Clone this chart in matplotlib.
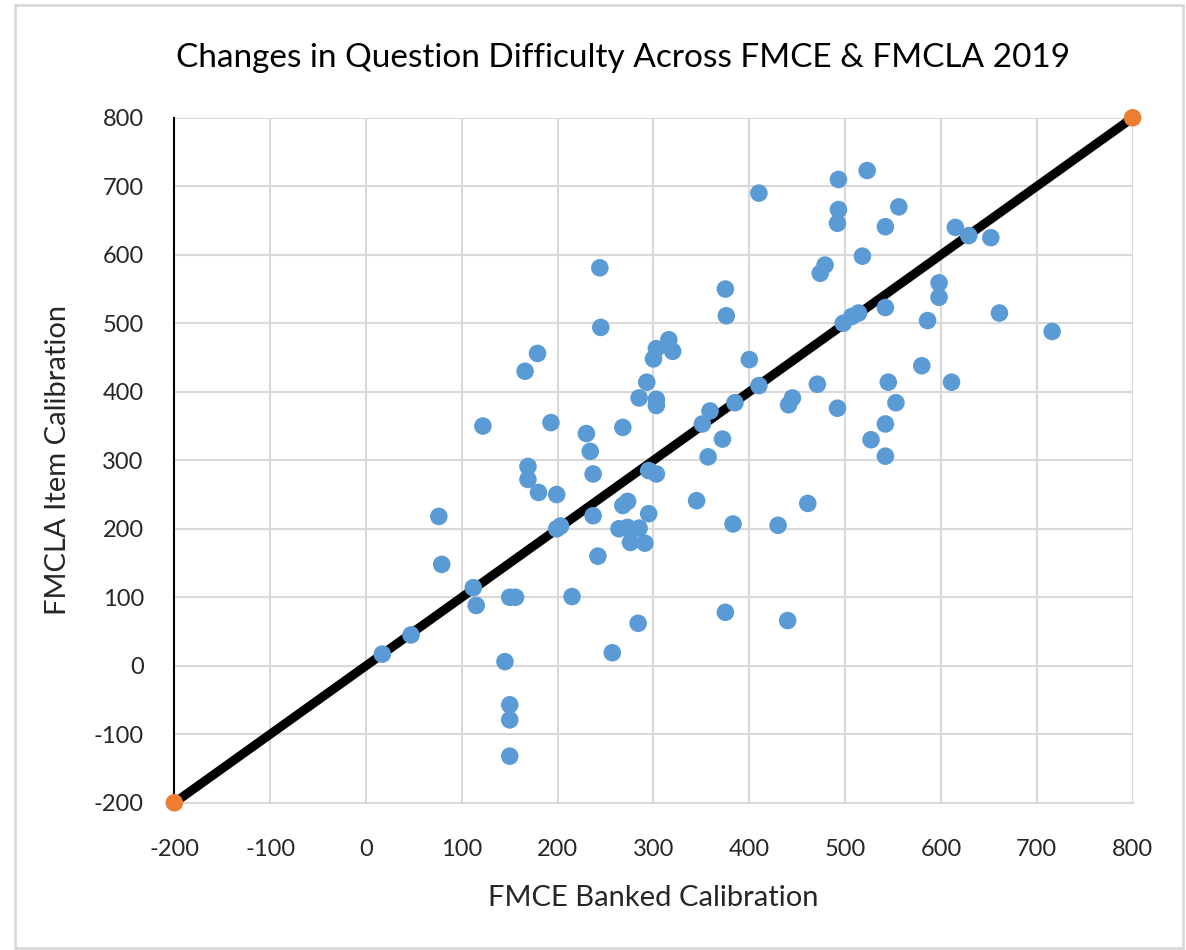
import matplotlib.pyplot as plt
from matplotlib.patches import Rectangle

plt.rcParams['font.family'] = ['Lato', 'DejaVu Sans']
plt.rcParams['axes.unicode_minus'] = False

# FMCE banked calibration (x) and FMCLA item calibration (y)
fmce = [17, 47, 76, 79, 112, 115, 122, 145, 150, 156, 150, 150, 150,
        166, 169, 169, 179, 180, 193, 199, 199, 203, 215, 230, 234, 237,
        237, 242, 244, 245, 257, 264, 268, 268, 273, 273, 276, 284, 285,
        285, 291, 293, 295, 295, 300, 303, 303, 303, 303, 316, 320, 345,
        351, 357, 359, 372, 375, 376, 375, 383, 385, 400, 410, 410, 430,
        440, 441, 445, 461, 471, 474, 479, 493, 492, 493, 492, 498, 507,
        514, 518, 523, 527, 542, 542, 542, 542, 545, 553, 556, 580, 586,
        598, 598, 611, 615, 629, 652, 661, 716]
fmcla = [17, 45, 218, 148, 114, 88, 350, 6, 100, 100, -57, -79, -132,
         430, 291, 272, 456, 253, 355, 200, 250, 204, 101, 339, 313, 280,
         219, 160, 581, 494, 19, 200, 348, 234, 240, 202, 180, 62, 391,
         201, 179, 414, 222, 285, 448, 463, 389, 380, 280, 476, 459, 241,
         353, 305, 372, 331, 550, 511, 78, 207, 384, 447, 409, 690, 205,
         66, 381, 391, 237, 411, 573, 585, 666, 646, 710, 376, 500, 510,
         515, 598, 723, 330, 641, 523, 353, 306, 414, 384, 670, 438, 504,
         559, 538, 414, 640, 628, 625, 515, 488]

# identity reference line endpoints
ref_x = [-200, 800]
ref_y = [-200, 800]

x_ticks = list(range(-200, 801, 100))
y_ticks = list(range(-200, 801, 100))

fig = plt.figure(figsize=(11.86, 9.5), dpi=100)
ax = fig.add_axes([0.147, 0.155, 0.808, 0.721])

ax.plot(ref_x, ref_y, color='black', lw=6.5, solid_capstyle='butt', zorder=3)
ax.scatter(fmce, fmcla, s=160, color='#5B9BD5', edgecolors='none', zorder=4)
ax.scatter(ref_x, ref_y, s=160, color='#ED7D31', edgecolors='none',
           zorder=5, clip_on=False)

ax.set_xlim(-200, 800)
ax.set_ylim(-200, 800)
ax.set_xticks(x_ticks)
ax.set_yticks(y_ticks)
ax.grid(True, color='#D9D9D9', lw=1.5)
ax.set_axisbelow(True)
ax.tick_params(length=0, labelsize=17, colors='#262626')
ax.tick_params(axis='x', pad=26)
ax.tick_params(axis='y', pad=22)

for side in ['top', 'right']:
    ax.spines[side].set_visible(False)
ax.spines['bottom'].set_color('#D9D9D9')
ax.spines['bottom'].set_linewidth(1.5)
ax.spines['left'].set_color('black')
ax.spines['left'].set_linewidth(1.5)

ax.set_xlabel('FMCE Banked Calibration', fontsize=21, labelpad=18,
              color='#262626')
ax.set_ylabel('FMCLA Item Calibration', fontsize=21, labelpad=16,
              color='#262626')
fig.text(0.525, 0.939, 'Changes in Question Difficulty Across FMCE & FMCLA 2019',
         fontsize=24, ha='center', va='center', color='black')

# light chart-area border
fig.patches.append(Rectangle((15 / 1186, 2 / 950), 1168 / 1186, 943 / 950,
                             transform=fig.transFigure, fill=False,
                             edgecolor='#D9D9D9', lw=2))

fig.savefig('out.png', dpi=100, facecolor='white')
